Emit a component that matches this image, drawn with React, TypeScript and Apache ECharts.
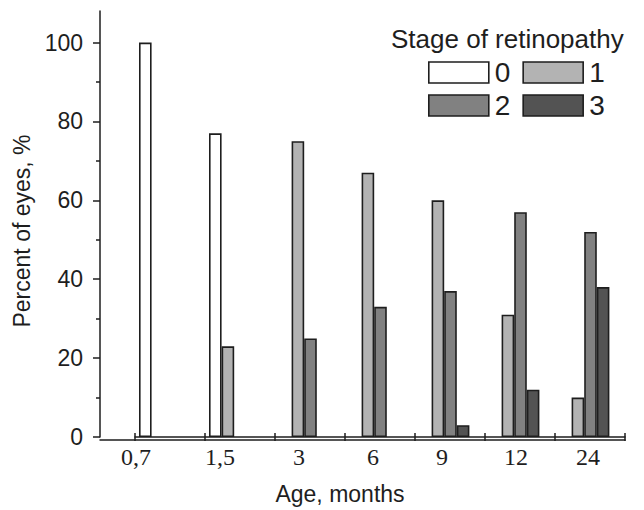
import React, { useEffect, useRef } from "react";
import * as echarts from "echarts";

// ---- data ----
const categories = ["0,7", "1,5", "3", "6", "9", "12", "24"];
const stageNames = ["0", "1", "2", "3"];
const stage0 = [100, 77, null, null, null, null, null];
const stage1 = [null, 23, 75, 67, 60, 31, 10];
const stage2 = [null, null, 25, 33, 37, 57, 52];
const stage3 = [null, null, null, null, 3, 12, 38];
const yTicks = [0, 20, 40, 60, 80, 100];
const yMinorTicks = [10, 30, 50, 70, 90];

const legendTitle = "Stage of retinopathy";
const yTitle = "Percent of eyes, %";
const xTitle = "Age, months";

// ---- style / layout ----
const stageColors = ["#ffffff", "#b3b3b3", "#818181", "#535353"];
const labelShift = [-34, -20, -11, -7, -8, -4, -2];
const SANS = "'Liberation Sans', Arial, Helvetica, sans-serif";
const SERIF = "'Liberation Serif', 'Times New Roman', serif";
const INK = "#1e1e1e";

export default function App() {
  const ref = useRef<HTMLDivElement>(null);

  useEffect(() => {
    document.body.style.margin = "0";
    if (!ref.current) return;
    const chart = echarts.init(ref.current, undefined, { renderer: "svg" });

    const seriesData = [stage0, stage1, stage2, stage3];

    const legendBase = {
      left: 428,
      width: 200,
      padding: 0,
      icon: "rect",
      itemWidth: 60,
      itemHeight: 21,
      itemGap: 12,
      selectedMode: false,
      itemStyle: { borderColor: INK, borderWidth: 1.6 },
      textStyle: { fontFamily: SANS, fontSize: 28, lineHeight: 21, color: INK, padding: [0, 0, 0, 1] },
    };

    const option: any = {
      animation: false,
      backgroundColor: "#ffffff",
      title: {
        text: legendTitle,
        left: 391,
        top: 26,
        padding: 0,
        textStyle: { fontFamily: SANS, fontSize: 26, fontWeight: "normal", color: INK },
      },
      legend: [
        { ...legendBase, data: stageNames.slice(0, 2), top: 58.5 },
        { ...legendBase, data: stageNames.slice(2, 4), top: 91.5 },
      ],
      grid: [
        { left: 135, width: 490, top: 11, bottom: 70.5 },
        { left: 100, width: 525, top: 11, bottom: 70.5 },
      ],
      xAxis: [
        {
          type: "category",
          gridIndex: 0,
          data: categories.map((c, i) => ({
            value: c,
            textStyle: { padding: labelShift[i] < 0 ? [0, -2 * labelShift[i], 0, 0] : [0, 0, 0, 2 * labelShift[i]] },
          })),
          position: "bottom",
          boundaryGap: true,
          axisLine: { show: true, onZero: false, lineStyle: { color: INK, width: 1.5 } },
          axisTick: { show: true, interval: 0, length: 4, lineStyle: { color: INK, width: 1.5 } },
          axisLabel: { interval: 0, margin: 8, fontFamily: SERIF, fontSize: 24, color: INK },
          splitLine: { show: false },
          name: xTitle,
          nameLocation: "middle",
          nameGap: 45,
          nameTextStyle: { fontFamily: SANS, fontSize: 23, color: INK, padding: [0, 80, 0, 0] },
        },
        {
          type: "category",
          gridIndex: 0,
          data: categories,
          position: "bottom",
          boundaryGap: true,
          axisLine: { show: false, onZero: false },
          axisTick: { show: true, inside: true, interval: 0, length: 4, lineStyle: { color: INK, width: 1.5 } },
          axisLabel: { show: false },
          splitLine: { show: false },
        },
        {
          type: "value",
          gridIndex: 1,
          min: 0,
          max: 1,
          axisLine: { show: true, onZero: false, lineStyle: { color: INK, width: 1.5 } },
          axisTick: { show: false },
          axisLabel: { show: false },
          splitLine: { show: false },
        },
      ],
      yAxis: [
        {
          type: "value",
          gridIndex: 0,
          position: "left",
          offset: 35,
          min: 0,
          max: 108,
          axisLine: { show: true, onZero: false, lineStyle: { color: INK, width: 1.5 } },
          axisTick: { show: true, length: 7, customValues: yTicks, lineStyle: { color: INK, width: 1.5 } },
          axisLabel: { margin: 17, customValues: yTicks, fontFamily: SANS, fontSize: 23, color: INK },
          splitLine: { show: false },
          name: yTitle,
          nameLocation: "middle",
          nameRotate: 90,
          nameGap: 63,
          nameTextStyle: { fontFamily: SANS, fontSize: 23, color: INK, padding: [0, 14, 0, 0] },
        },
        {
          type: "value",
          gridIndex: 0,
          position: "left",
          offset: 35,
          min: 0,
          max: 108,
          axisLine: { show: false },
          axisTick: { show: true, length: 4, customValues: yMinorTicks, lineStyle: { color: INK, width: 1.5 } },
          axisLabel: { show: false },
          splitLine: { show: false },
        },
        { type: "value", gridIndex: 1, min: 0, max: 1, show: false },
      ],
      series: [
        ...seriesData.map((d, i) => ({
          type: "bar",
          name: stageNames[i],
          xAxisIndex: 0,
          yAxisIndex: 0,
          data: d,
          barWidth: 12.6,
          barGap: "0%",
          itemStyle: { color: stageColors[i], borderColor: INK, borderWidth: 1.6 },
        })),
        {
          type: "bar",
          name: "spacer",
          xAxisIndex: 0,
          yAxisIndex: 0,
          data: [],
          barWidth: 11.6,
          barGap: "0%",
          silent: true,
        },
      ],
    };

    chart.setOption(option);
    return () => chart.dispose();
  }, []);

  return <div ref={ref} style={{ width: 644, height: 510 }} />;
}
